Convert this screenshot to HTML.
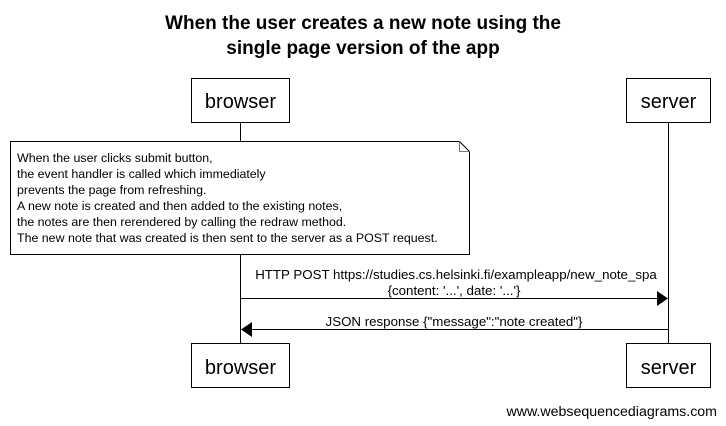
<!DOCTYPE html>
<html><head><meta charset="utf-8"><style>
html,body{margin:0;padding:0;background:#fff;}
svg{display:block;font-family:"Liberation Sans",Arial,sans-serif;}
</style></head><body>
<svg width="726" height="426" viewBox="0 0 726 426" xmlns="http://www.w3.org/2000/svg">
<rect width="726" height="426" fill="#fff"/>
<text x="363" y="29" font-size="19" font-weight="bold" text-anchor="middle">When the user creates a new note using the</text>
<text x="363" y="54" font-size="19" font-weight="bold" text-anchor="middle">single page version of the app</text>
<g stroke="#000" stroke-width="1" fill="none">
<line x1="240.5" y1="122" x2="240.5" y2="343"/>
<line x1="668.5" y1="122" x2="668.5" y2="343"/>
<rect x="191.5" y="78.5" width="98" height="44" fill="#fff"/>
<rect x="626.5" y="78.5" width="84" height="44" fill="#fff"/>
<rect x="191.5" y="343.5" width="98" height="44" fill="#fff"/>
<rect x="626.5" y="343.5" width="84" height="44" fill="#fff"/>
<path d="M10.5 141.5 H459.5 L469.5 151.5 V254.5 H10.5 Z" fill="#fff"/>
<path d="M459.5 141.5 V151.5 H469.5" stroke="#777"/>
<line x1="240" y1="298.5" x2="658" y2="298.5"/>
<line x1="251" y1="329.5" x2="668" y2="329.5"/>
</g>
<polygon points="657,291 668,298.5 657,306" fill="#000"/>
<polygon points="252,322 241,329.5 252,337" fill="#000"/>
<g font-size="20" text-anchor="middle">
<text x="240.5" y="108">browser</text>
<text x="668.5" y="108">server</text>
<text x="240.5" y="374">browser</text>
<text x="668.5" y="374">server</text>
</g>
<g font-size="12.4">
<text x="17" y="162">When the user clicks submit button,</text>
<text x="17" y="178">the event handler is called which immediately</text>
<text x="17" y="194">prevents the page from refreshing.</text>
<text x="17" y="210">A new note is created and then added to the existing notes,</text>
<text x="17" y="226">the notes are then rerendered by calling the redraw method.</text>
<text x="17" y="242">The new note that was created is then sent to the server as a POST request.</text>
</g>
<g font-size="13.3" text-anchor="middle">
<text x="456" y="279">HTTP POST https://studies.cs.helsinki.fi/exampleapp/new_note_spa</text>
<text x="454" y="295">{content: '...', date: '...'}</text>
<text x="454" y="326">JSON response {"message":"note created"}</text>
</g>
<text x="717" y="416" font-size="14.2" text-anchor="end">www.websequencediagrams.com</text>
</svg>
</body></html>
